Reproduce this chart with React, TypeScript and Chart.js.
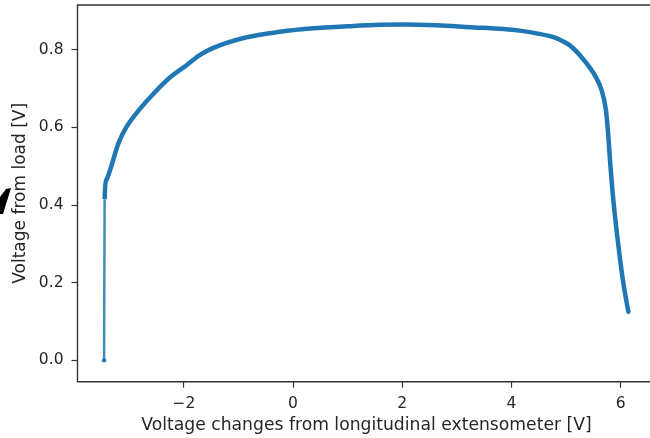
import { useEffect, useRef } from 'react';
import { Chart, registerables } from 'chart.js';

Chart.register(...registerables);

// Values (path order)
const xValues = [
  -3.46, -3.45, -3.42, -3.35, -3.2, -3.05, -2.8, -2.56, -2.25, -1.95, -1.71, -1.47,
  -0.85, -0.24, 0.37, 0.98, 1.59, 2.02, 2.63, 3.24, 3.85, 4.15, 4.46, 4.77, 4.95, 5.07,
  5.25, 5.5, 5.65, 5.73, 5.77, 5.8, 5.86, 5.96, 6.05, 6.14,
];
const yValues = [
  0.0, 0.415, 0.464, 0.49, 0.558, 0.601, 0.648, 0.686, 0.729, 0.76, 0.786, 0.804,
  0.832, 0.846, 0.855, 0.86, 0.864, 0.865, 0.863, 0.858, 0.853, 0.849, 0.842, 0.832, 0.821,
  0.811, 0.786, 0.74, 0.696, 0.644, 0.585, 0.524, 0.421, 0.293, 0.198, 0.125,
];
const xTicks = [-2, 0, 2, 4, 6];
const yTicks = [0, 0.2, 0.4, 0.6, 0.8];
const xRange = [-3.947, 6.537];
const yRange = [-0.055, 0.915];
const xTitle = '\u00a0Voltage changes from longitudinal extensometer [V]';
const yTitle = 'Voltage from load [V]';

const FONT = "'DejaVu Sans', sans-serif";
const TEXT = '#262626';
const AXIS = '#333333';
const BLUE = '#1f77b4';

const zeroPad = (s: any) => {
  s.paddingLeft = 0;
  s.paddingRight = 0;
  s.paddingTop = 0;
  s.paddingBottom = 0;
};

export default function App() {
  const ref = useRef<HTMLCanvasElement>(null);

  useEffect(() => {
    const spines = {
      id: 'spines',
      afterDraw(chart: any) {
        const { ctx, chartArea } = chart;
        ctx.save();
        ctx.strokeStyle = AXIS;
        ctx.lineWidth = 1.4;
        ctx.beginPath();
        ctx.moveTo(chartArea.right + 2, chartArea.top);
        ctx.lineTo(chartArea.left, chartArea.top);
        ctx.lineTo(chartArea.left, chartArea.bottom);
        ctx.lineTo(chartArea.right + 2, chartArea.bottom);
        ctx.stroke();
        // small dark wedge at the left edge of the reference screenshot
        ctx.fillStyle = '#000';
        ctx.beginPath();
        ctx.moveTo(0, 197);
        ctx.lineTo(6, 189);
        ctx.lineTo(11, 188);
        ctx.lineTo(3, 214);
        ctx.lineTo(0, 214);
        ctx.closePath();
        ctx.fill();
        ctx.restore();
      },
    };

    const data = xValues.map((x, i) => ({ x, y: yValues[i] }));
    const last = xValues.length - 1;

    const chart = new Chart(ref.current as HTMLCanvasElement, {
      type: 'line',
      data: {
        datasets: [
          {
            data,
            borderColor: BLUE,
            backgroundColor: BLUE,
            borderWidth: 4.5,
            cubicInterpolationMode: 'monotone',
            pointRadius: (c: any) => (c.dataIndex === 0 || c.dataIndex === last ? 2.2 : 0),
            pointBorderWidth: 0,
            pointHoverRadius: 0,
            segment: {
              borderWidth: (c: any) => (c.p0DataIndex === 0 ? 2.5 : 4.5),
              borderColor: (c: any) =>
                c.p0DataIndex === 0 ? 'rgba(31,119,180,0.85)' : BLUE,
            },
          } as any,
        ],
      },
      options: {
        animation: false,
        responsive: false,
        layout: { autoPadding: false, padding: { left: 0, right: 0, top: 5, bottom: 0 } },
        plugins: { legend: { display: false }, tooltip: { enabled: false } },
        scales: {
          x: {
            type: 'linear',
            min: xRange[0],
            max: xRange[1],
            afterBuildTicks: (s: any) => {
              s.ticks = xTicks.map((v) => ({ value: v }));
            },
            afterFit: (s: any) => {
              s.height = 56.3;
              zeroPad(s);
            },
            grid: {
              drawOnChartArea: false,
              drawTicks: true,
              tickLength: 6,
              tickWidth: 1.2,
              tickColor: AXIS,
            },
            border: { display: false },
            ticks: {
              color: TEXT,
              font: { family: FONT, size: 15.5 },
              padding: 7,
              maxRotation: 0,
              callback: (v: any) => (v < 0 ? '\u2212' + Math.abs(v) : String(v)),
            },
            title: {
              display: true,
              text: xTitle,
              color: TEXT,
              font: { family: FONT, size: 17.2 },
              padding: { top: 2.5, bottom: 2.5 },
            },
          },
          y: {
            type: 'linear',
            min: yRange[0],
            max: yRange[1],
            afterBuildTicks: (s: any) => {
              s.ticks = yTicks.map((v) => ({ value: v }));
            },
            afterFit: (s: any) => {
              s.width = 77.5;
              zeroPad(s);
            },
            grid: {
              drawOnChartArea: false,
              drawTicks: true,
              tickLength: 6,
              tickWidth: 1.2,
              tickColor: AXIS,
            },
            border: { display: false },
            ticks: {
              color: TEXT,
              font: { family: FONT, size: 15.5 },
              padding: 8,
              callback: (v: any) => Number(v).toFixed(1),
            },
            title: {
              display: true,
              text: yTitle,
              color: TEXT,
              font: { family: FONT, size: 17 },
              padding: { top: 10, bottom: 10 },
            },
          },
        },
      } as any,
      plugins: [spines],
    });
    return () => chart.destroy();
  }, []);

  return (
    <div style={{ position: 'absolute', left: 0, top: 0, width: 650, height: 438, background: '#fff' }}>
      <canvas ref={ref} width={650} height={438} />
    </div>
  );
}
